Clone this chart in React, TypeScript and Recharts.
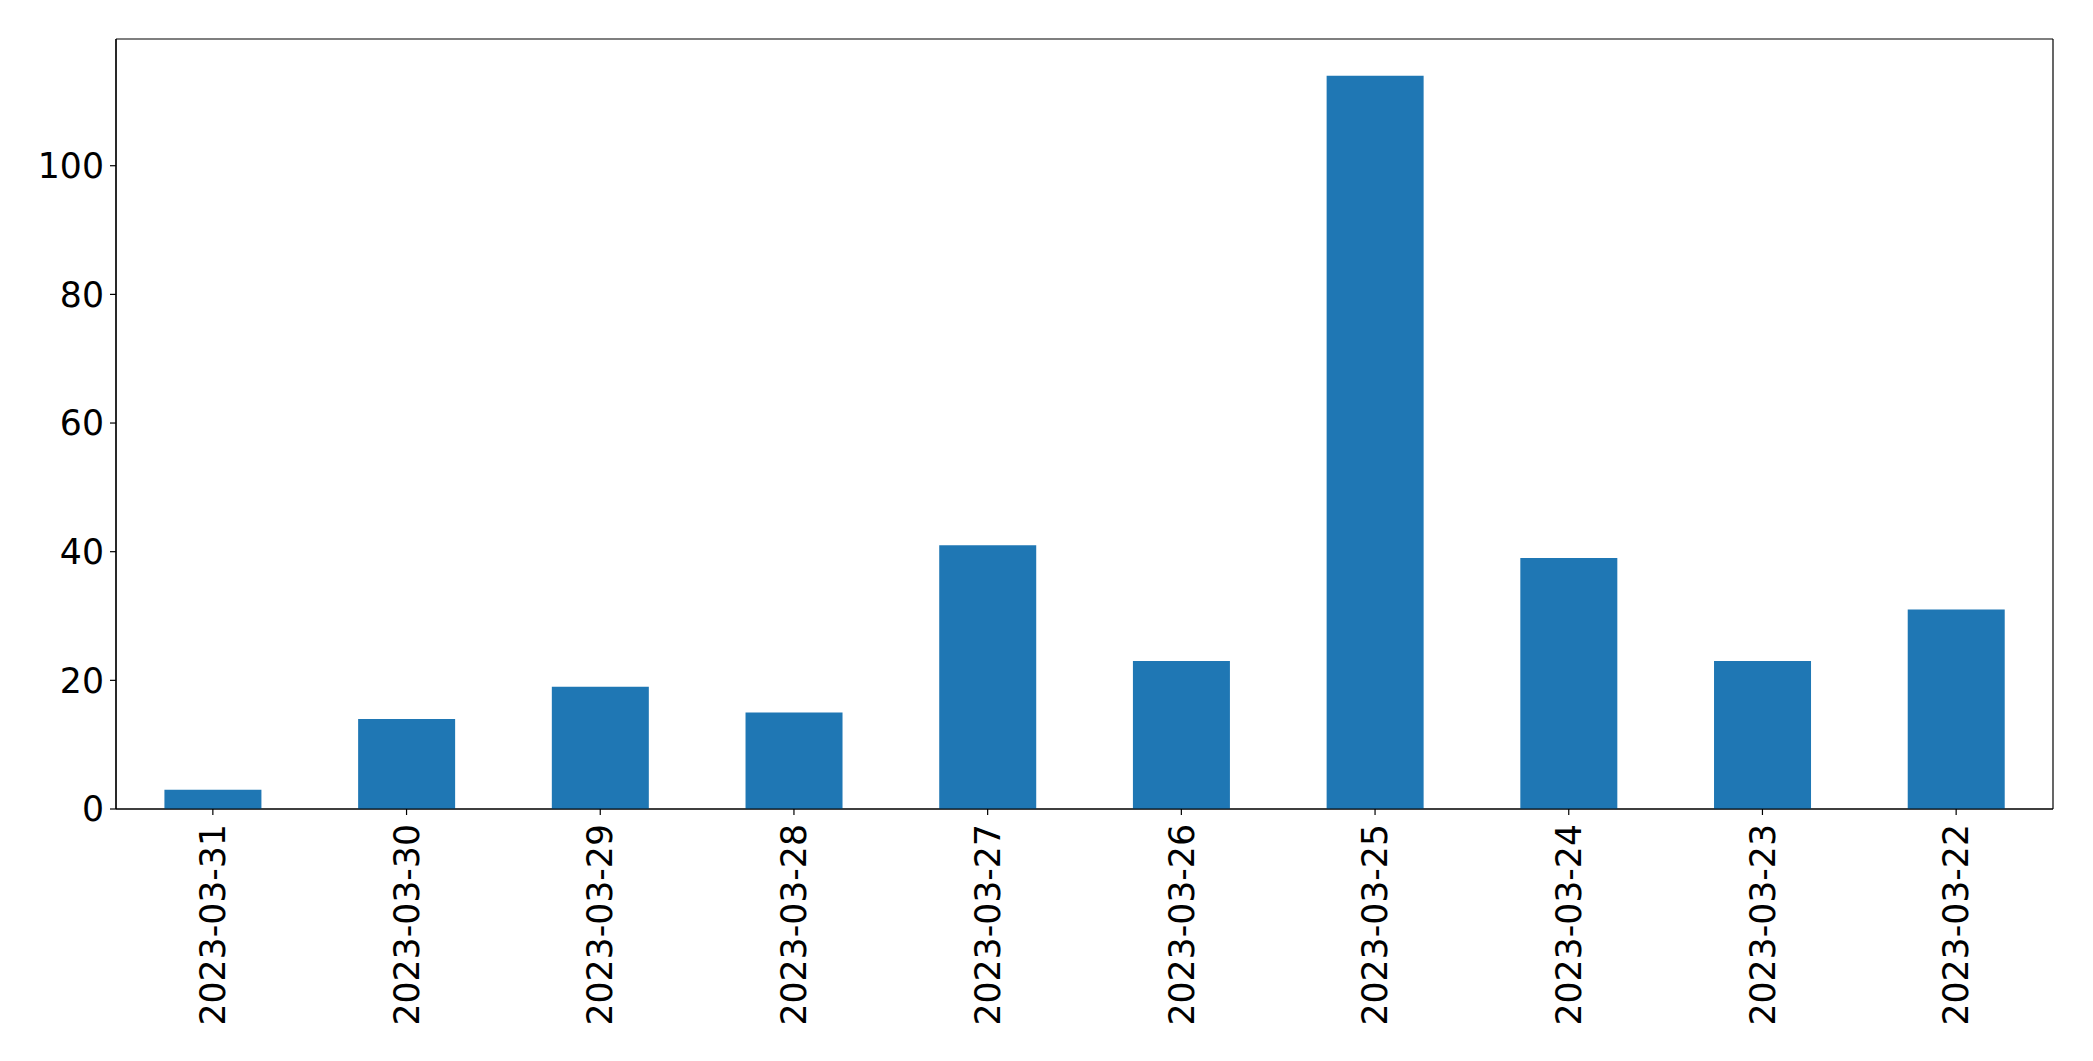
import { BarChart, Bar, XAxis, YAxis, CartesianGrid } from 'recharts';

const dates = [
  '2023-03-31',
  '2023-03-30',
  '2023-03-29',
  '2023-03-28',
  '2023-03-27',
  '2023-03-26',
  '2023-03-25',
  '2023-03-24',
  '2023-03-23',
  '2023-03-22',
];
const counts = [3, 14, 19, 15, 41, 23, 114, 39, 23, 31];
const yTicks = [0, 20, 40, 60, 80, 100];

const FONT = 'DejaVu Sans, sans-serif';
const FONT_SIZE = 34.7;

const data = dates.map((d, i) => ({ date: d, count: counts[i] }));

// rotated date labels under the bars, like matplotlib's rot=90
const DateTick = (props: any) => {
  const { x, y, payload } = props;
  return (
    <g transform={`translate(${x},${y})`}>
      <text
        transform="rotate(-90)"
        textAnchor="end"
        dy="0.35em"
        fontFamily={FONT}
        fontSize={FONT_SIZE}
        fill="#000"
      >
        {payload.value}
      </text>
    </g>
  );
};

export default function App() {
  const maxVal = Math.max(...counts);
  return (
    <div style={{ position: 'absolute', left: 0, top: 0, background: '#fff' }}>
      <BarChart
        width={2093}
        height={1061}
        data={data}
        margin={{ top: 39, right: 40, bottom: 0, left: 0 }}
        barCategoryGap="25%"
      >
        {/* box around the plot area: grid lines only at its edges */}
        <CartesianGrid
          stroke="#000"
          strokeWidth={1.2}
          horizontalCoordinatesGenerator={({ offset }: any) => [offset.top, offset.top + offset.height]}
          verticalCoordinatesGenerator={({ offset }: any) => [offset.left, offset.left + offset.width]}
        />
        <XAxis
          dataKey="date"
          height={252}
          interval={0}
          tick={<DateTick />}
          tickSize={6}
          tickMargin={9}
          axisLine={{ stroke: '#000', strokeWidth: 1.2 }}
          tickLine={{ stroke: '#000', strokeWidth: 1.2 }}
        />
        <YAxis
          width={116}
          domain={[0, maxVal * 1.05]}
          ticks={yTicks}
          allowDataOverflow
          tickSize={6}
          tickMargin={6}
          tick={{ fontFamily: FONT, fontSize: FONT_SIZE, fill: '#000' }}
          axisLine={{ stroke: '#000', strokeWidth: 1.2 }}
          tickLine={{ stroke: '#000', strokeWidth: 1.2 }}
        />
        <Bar dataKey="count" fill="#1f77b4" isAnimationActive={false} />
      </BarChart>
    </div>
  );
}
